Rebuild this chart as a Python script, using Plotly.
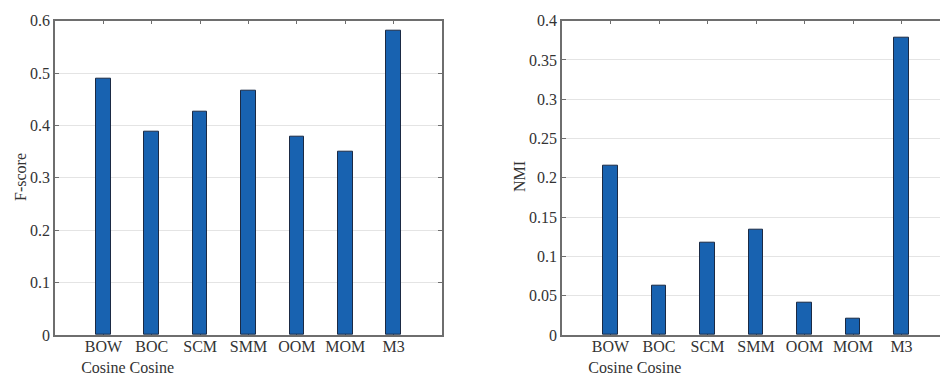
import plotly.graph_objects as go

methods = ["BOW<br>Cosine", "BOC<br>Cosine", "SCM", "SMM", "OOM", "MOM", "M3"]
positions = [1, 2, 3, 4, 5, 6, 7]
fscore = [0.49, 0.388, 0.426, 0.467, 0.379, 0.349, 0.581]
nmi = [0.215, 0.063, 0.117, 0.134, 0.041, 0.021, 0.379]
fscore_ticks = [0, 0.1, 0.2, 0.3, 0.4, 0.5, 0.6]
nmi_ticks = [0, 0.05, 0.1, 0.15, 0.2, 0.25, 0.3, 0.35, 0.4]
y_titles = ["F-score", "NMI"]

FONT = "'Liberation Serif', 'Times New Roman', Times, serif"
BAR = "#1862b0"
EDGE = "#1b2a44"
AX = "#6e6e6e"
TXT = "#333333"
FS = 16

fig = go.Figure()
fig.add_trace(go.Bar(x=positions, y=fscore, width=0.3, marker=dict(color=BAR, line=dict(color=EDGE, width=1)),
                     xaxis="x", yaxis="y", showlegend=False))
fig.add_trace(go.Bar(x=positions, y=nmi, width=0.3, marker=dict(color=BAR, line=dict(color=EDGE, width=1)),
                     xaxis="x2", yaxis="y2", showlegend=False))

ydom = [40 / 375, 354.3 / 375]
common_x = dict(tickmode="array", tickvals=positions, ticktext=methods, ticks="inside", ticklen=4,
                tickcolor=AX, showline=True, linecolor=AX, linewidth=1.5, showgrid=False, zeroline=False,
                tickfont=dict(family=FONT, size=FS, color=TXT), layer="below traces", fixedrange=True,
                automargin=False, ticklabelstandoff=-4)
common_y = dict(ticks="inside", ticklen=4, tickcolor=AX, showline=True, linecolor=AX, linewidth=1.5,
                showgrid=True, gridcolor="#e4e4e4", gridwidth=1, zeroline=False,
                tickfont=dict(family=FONT, size=FS, color=TXT), domain=ydom, tickmode="array",
                automargin=False)

fig.update_layout(
    width=940, height=375, margin=dict(l=0, r=0, t=0, b=0),
    paper_bgcolor="white", plot_bgcolor="white",
    xaxis=dict(domain=[55 / 940, 442 / 940], range=[0, 8], mirror="ticks", anchor="y", **common_x),
    yaxis=dict(range=[0, 0.6], tickvals=fscore_ticks, ticktext=[f"{v:g}" for v in fscore_ticks],
               mirror="ticks", anchor="x", **common_y),
    xaxis2=dict(domain=[562 / 940, 1.0], range=[0, (940 - 562) / 48.5], mirror="ticks", anchor="y2", **common_x),
    yaxis2=dict(range=[0, 0.4], tickvals=nmi_ticks, ticktext=[f"{v:g}" for v in nmi_ticks],
                mirror=False, anchor="x2", **common_y),
    bargap=0,
)

for xpos, txt in zip([20 / 940, 519 / 940], y_titles):
    fig.add_annotation(x=xpos, y=(375 - 177) / 375, xref="paper", yref="paper", text=txt, textangle=-90,
                       showarrow=False, xanchor="center", yanchor="middle",
                       font=dict(family=FONT, size=FS, color=TXT))

fig.write_html("out.html")
